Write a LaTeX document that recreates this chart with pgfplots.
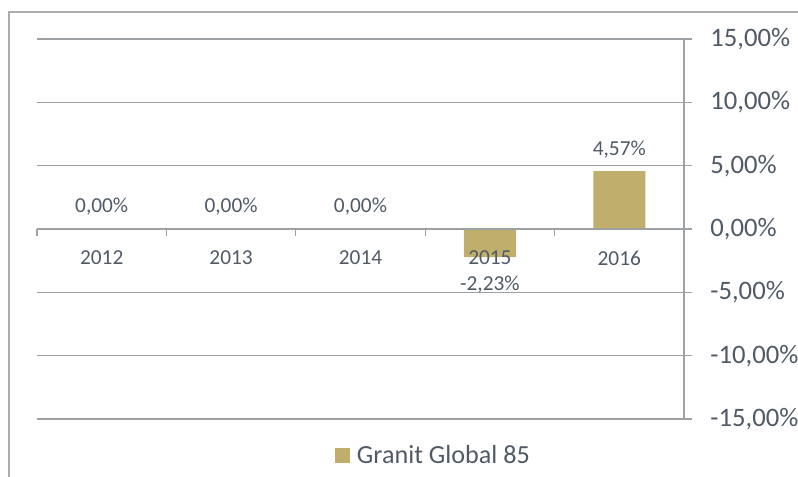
\documentclass[border=0pt]{standalone}
\usepackage{pgfplots}
\pgfplotsset{compat=1.18}
\usepackage{fontspec}
\setmainfont{Carlito}
\definecolor{bargold}{RGB}{192,174,108}
\definecolor{txt}{RGB}{80,90,102}
\definecolor{gridc}{RGB}{158,161,164}
\definecolor{framec}{RGB}{170,172,175}
\pgfplotsset{sqlegend/.style={legend image code/.code={\fill[##1] (0pt,-5.6pt) rectangle (11.25pt,5.6pt);}}}
\begin{document}
\begin{tikzpicture}
\useasboundingbox (0pt,0pt) rectangle (598.5pt,-357.75pt);
\draw[framec, line width=1.1pt] (6.75pt,-357.75pt) -- (6.75pt,-9pt) -- (598.5pt,-9pt);
\begin{axis}[
  at={(27.75pt,-314.25pt)}, anchor=south west,
  scale only axis, width=485.25pt, height=285pt,
  axis on top,
  ybar, bar width=39pt,
  xmin=-0.5, xmax=4.5, ymin=-15, ymax=15,
  axis x line=middle, axis y line=right,
  every inner x axis line/.append style={-},
  every outer y axis line/.append style={-},
  axis line style={-, gridc, line width=1pt},
  tick style={gridc, line width=1pt},
  ytick={-15,-10,...,15},
  ytick align=outside,
  major tick length=6pt,
  minor tick length=5pt,
  ymajorgrids,
  grid style={gridc, line width=1pt},
  /pgf/number format/.cd, fixed, fixed zerofill, precision=2, use comma, assume math mode=true,
  /pgfplots/.cd,
  yticklabel={\pgfmathprintnumber{\tick}\%},
  yticklabel style={font=\fontsize{20}{23}\selectfont, text=txt, xshift=10.25pt},
  xtick={0,...,4},
  xticklabels={2012,2013,2014,2015,2016},
  major x tick style={draw=none},
  minor xtick={-0.5,0.5,...,4.5},
  xtick align=outside,
  xticklabel style={font=\fontsize{16}{18}\selectfont, text=txt, yshift=-7pt},
  visualization depends on={y \as \rawy},
  nodes near coords={\pgfmathprintnumber{\pgfplotspointmeta}\%},
  nodes near coords style={font=\fontsize{16}{18}\selectfont, text=txt,
    yshift={ifthenelse(\rawy<0,-10.5,6.5)}},
  legend style={at={(0.6135,-0.097)}, anchor=center, draw=none, fill=none,
    font=\fontsize{19.6}{22}\selectfont, text=txt},
]
\addplot[fill=bargold, draw=none, sqlegend]
  coordinates {(0,0) (1,0) (2,0) (3,-2.23) (4,4.57)};
\addlegendentry{\hspace{3pt}Granit Global 85}
\end{axis}
\end{tikzpicture}
\end{document}
